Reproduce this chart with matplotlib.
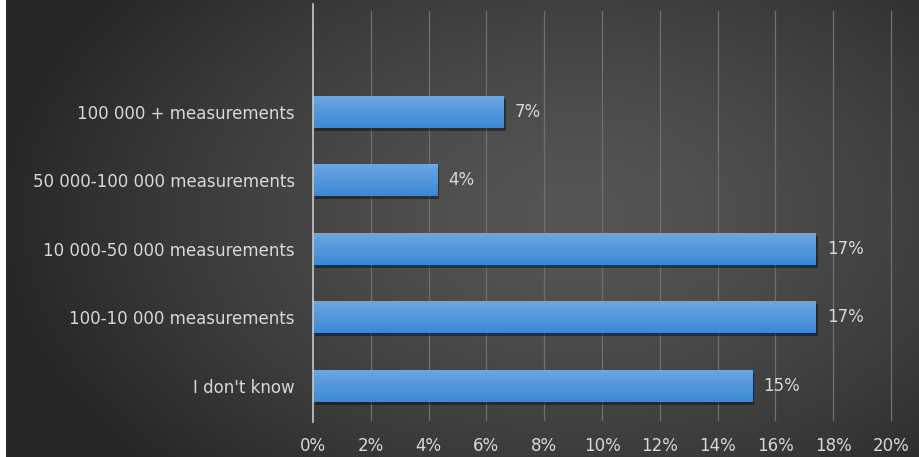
import numpy as np
import matplotlib
matplotlib.use("Agg")
import matplotlib.pyplot as plt
import matplotlib.transforms as mtransforms

categories = [
    "100 000 + measurements",
    "50 000-100 000 measurements",
    "10 000-50 000 measurements",
    "100-10 000 measurements",
    "I don't know",
]
shares = [6.6, 4.3, 17.4, 17.4, 15.2]
x_ticks = [0, 2, 4, 6, 8, 10, 12, 14, 16, 18, 20]
x_tick_labels = [f"{t}%" for t in x_ticks]

plt.rcParams["font.family"] = ["DejaVu Sans"]
TEXT = "#d8d8d8"
FS = 12

W, H = 919, 457
fig = plt.figure(figsize=(W / 100, H / 100), dpi=100)
fig.patch.set_facecolor("white")

# radial dark-grey backdrop (lighter in the middle, darker toward the edges)
bg = fig.add_axes([6 / W, 0, 1 - 6 / W, 1], zorder=0)
gx = np.linspace(-1, 1, 600)
gy = np.linspace(-1, 1, 300)
GX, GY = np.meshgrid(gx, gy)
r = np.sqrt(((GX - 0.25) / 1.25) ** 2 + ((GY + 0.05) / 1.6) ** 2)
r = np.clip(r, 0, 1)
shade = 0.335 - (0.335 - 0.155) * r ** 1.4
bg.imshow(np.dstack([shade] * 3), extent=(0, 1, 0, 1), aspect="auto",
          interpolation="bicubic")
bg.set_axis_off()

ax = fig.add_axes([313 / W, 37 / H, 578 / W, 409 / H], zorder=1)
ax.patch.set_alpha(0)
ypos = np.arange(len(categories))[::-1]
bar_h = 0.47

for t in x_ticks[1:]:
    ax.axvline(t, color="#707070", lw=0.9, zorder=1, clip_on=False)

# drop shadow under each bar
shadow_tr = ax.transData + mtransforms.ScaledTranslation(2 / 100, -3 / 100, fig.dpi_scale_trans)
ax.barh(ypos, shares, height=bar_h, color="black", alpha=0.4,
        transform=shadow_tr, zorder=2, linewidth=0)

# bars with a vertical blue gradient
grad = np.linspace(0, 1, 64)[:, None]
top_c = np.array([0x6c, 0xa8, 0xe4]) / 255
bot_c = np.array([0x3c, 0x88, 0xd4]) / 255
grad_img = top_c[None, None, :] * (1 - grad[:, :, None]) + bot_c[None, None, :] * grad[:, :, None]
bars = ax.barh(ypos, shares, height=bar_h, color=bot_c, zorder=3, linewidth=0)
for b in bars:
    x0, y0 = b.get_x(), b.get_y()
    w, h = b.get_width(), b.get_height()
    im = ax.imshow(grad_img, extent=(x0, x0 + w, y0, y0 + h), aspect="auto",
                   zorder=3.5, interpolation="bilinear")
    im.set_clip_path(b)

ax.set_xlim(0, 20)
ax.set_ylim(-0.5, 5.47)

for y, v in zip(ypos, shares):
    ax.annotate(f"{v:.0f}%", xy=(v, y), xytext=(8, 0), textcoords="offset points",
                ha="left", va="center", color=TEXT, fontsize=FS, zorder=5)

# 0% baseline
ax.plot([0, 0], [-0.005, 1.017], transform=ax.get_xaxis_transform(),
        color="#c8c8c8", lw=1.2, clip_on=False, zorder=4)

ax.set_yticks(ypos)
ax.set_yticklabels(categories, color=TEXT, fontsize=FS)
ax.set_xticks(x_ticks)
ax.set_xticklabels(x_tick_labels, color=TEXT, fontsize=FS)
ax.tick_params(axis="y", length=0, pad=13)
ax.tick_params(axis="x", length=0, pad=12)
for s in ax.spines.values():
    s.set_visible(False)

fig.savefig("out.png", dpi=100, facecolor=fig.get_facecolor())
